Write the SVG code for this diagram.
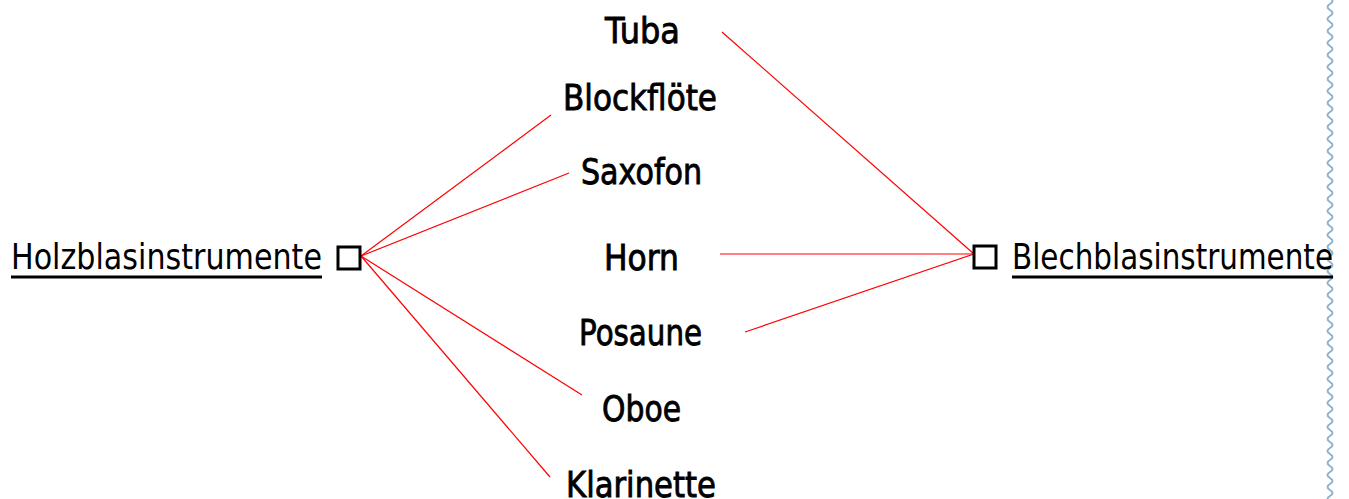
<svg xmlns="http://www.w3.org/2000/svg" width="1349" height="499" viewBox="0 0 1349 499">
<style>
.item{font-family:"DejaVu Sans",sans-serif;font-size:36px;fill:#000;stroke:#000;stroke-width:0.9;}
.cat{font-family:"DejaVu Sans",sans-serif;font-size:35px;fill:#000;}
.box{fill:#fff;stroke:#000;stroke-width:3;}
.ul{stroke:#000;stroke-width:3;}
.con{stroke:#ff0000;stroke-width:1.2;fill:none;}
.wave{fill:none;stroke:#8fb3cc;stroke-width:2;}
</style>
<rect width="1349" height="499" fill="#fff"/>
<path class="wave" d="M1330,-2 q5,3 0,6 q-5,3 0,6 q5,3 0,6 q-5,3 0,6 q5,3 0,6 q-5,3 0,6 q5,3 0,6 q-5,3 0,6 q5,3 0,6 q-5,3 0,6 q5,3 0,6 q-5,3 0,6 q5,3 0,6 q-5,3 0,6 q5,3 0,6 q-5,3 0,6 q5,3 0,6 q-5,3 0,6 q5,3 0,6 q-5,3 0,6 q5,3 0,6 q-5,3 0,6 q5,3 0,6 q-5,3 0,6 q5,3 0,6 q-5,3 0,6 q5,3 0,6 q-5,3 0,6 q5,3 0,6 q-5,3 0,6 q5,3 0,6 q-5,3 0,6 q5,3 0,6 q-5,3 0,6 q5,3 0,6 q-5,3 0,6 q5,3 0,6 q-5,3 0,6 q5,3 0,6 q-5,3 0,6 q5,3 0,6 q-5,3 0,6 q5,3 0,6 q-5,3 0,6 q5,3 0,6 q-5,3 0,6 q5,3 0,6 q-5,3 0,6 q5,3 0,6 q-5,3 0,6 q5,3 0,6 q-5,3 0,6 q5,3 0,6 q-5,3 0,6 q5,3 0,6 q-5,3 0,6 q5,3 0,6 q-5,3 0,6 q5,3 0,6 q-5,3 0,6 q5,3 0,6 q-5,3 0,6 q5,3 0,6 q-5,3 0,6 q5,3 0,6 q-5,3 0,6 q5,3 0,6 q-5,3 0,6 q5,3 0,6 q-5,3 0,6 q5,3 0,6 q-5,3 0,6 q5,3 0,6 q-5,3 0,6 q5,3 0,6 q-5,3 0,6 q5,3 0,6 q-5,3 0,6 q5,3 0,6 q-5,3 0,6 q5,3 0,6 q-5,3 0,6 q5,3 0,6 q-5,3 0,6 q5,3 0,6 q-5,3 0,6"/>
<g id="connectors">
<line class="con" x1="361" y1="256" x2="551" y2="115"/>
<line class="con" x1="361" y1="256" x2="569" y2="173"/>
<line class="con" x1="361" y1="256" x2="582" y2="395"/>
<line class="con" x1="361" y1="256" x2="550" y2="477"/>
<line class="con" x1="974" y1="254" x2="722" y2="32"/>
<line class="con" x1="974" y1="254" x2="720" y2="254"/>
<line class="con" x1="974" y1="254" x2="745" y2="332"/>
</g>
<g id="holz">
<text class="cat" x="11" y="269" textLength="311" lengthAdjust="spacingAndGlyphs">Holzblasinstrumente</text>
<line class="ul" x1="11" y1="277" x2="322" y2="277"/>
<rect class="box" x="338" y="247" width="22" height="22"/>
</g>
<g id="blech">
<rect class="box" x="974" y="246" width="22" height="22"/>
<text class="cat" x="1012" y="269" textLength="321" lengthAdjust="spacingAndGlyphs">Blechblasinstrumente</text>
<line class="ul" x1="1012" y1="277" x2="1333" y2="277"/>
</g>
<g id="tuba"><text class="item" x="605" y="43" textLength="75" lengthAdjust="spacingAndGlyphs">Tuba</text></g>
<g id="blockfloete"><text class="item" x="563" y="110" textLength="154" lengthAdjust="spacingAndGlyphs">Blockflöte</text></g>
<g id="saxofon"><text class="item" x="581" y="184" textLength="121" lengthAdjust="spacingAndGlyphs">Saxofon</text></g>
<g id="horn"><text class="item" x="604" y="270" textLength="75" lengthAdjust="spacingAndGlyphs">Horn</text></g>
<g id="posaune"><text class="item" x="579" y="345" textLength="123" lengthAdjust="spacingAndGlyphs">Posaune</text></g>
<g id="oboe"><text class="item" x="602" y="421" textLength="79" lengthAdjust="spacingAndGlyphs">Oboe</text></g>
<g id="klarinette"><text class="item" x="566" y="497" textLength="150" lengthAdjust="spacingAndGlyphs">Klarinette</text></g>
</svg>
